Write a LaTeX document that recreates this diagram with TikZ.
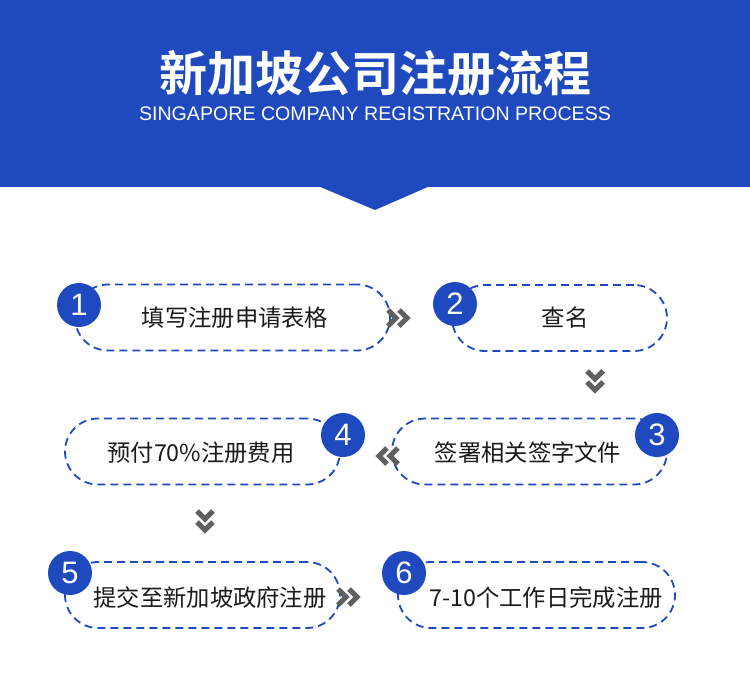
\documentclass[tikz,border=0pt]{standalone}
\usepackage{fontspec}
\newfontfamily\cjk{Noto Sans CJK SC}[BoldFont={Noto Sans CJK SC Bold}]
\newfontfamily\latinsans{Liberation Sans}
\usetikzlibrary{calc}
\definecolor{hblue}{HTML}{1F4ABF}
\definecolor{chevgray}{HTML}{606060}
\definecolor{txt}{HTML}{1A1A1A}
\begin{document}
\begin{tikzpicture}[x=1pt,y=-1pt,
 pill/.style={draw=hblue, line width=1.8pt, dash pattern=on 8pt off 5pt, rounded corners=33pt, minimum height=66pt, inner sep=0pt},
 ptext/.style={text=txt, font=\cjk\fontsize{23.3}{23.3}\selectfont, inner sep=0pt},
 num/.style={circle, fill=hblue, minimum size=44pt, inner sep=0pt, text=white, font=\latinsans\fontsize{31}{31}\selectfont},
 chevline/.style={draw=chevgray, line width=5pt, line cap=butt, line join=miter},
 chevs/.pic={\draw[chevline] (-12,-8)--(-4,0)--(-12,8); \draw[chevline] (-1,-8)--(7,0)--(-1,8);}
]
\useasboundingbox (0,0) rectangle (750,675);
\fill[white] (0,0) rectangle (750,675);
% header
\fill[hblue] (0,0) rectangle (750,187);
\fill[hblue] (318,186) -- (375,210) -- (430,186) -- cycle;
\node[text=white, font=\cjk\bfseries\fontsize{48}{48}\selectfont, inner sep=0pt] (title) at (375,73) {新加坡公司注册流程};
\node[text=white, font=\latinsans\fontsize{19.6}{19.6}\selectfont, inner sep=0pt] (sub) at (375,114) {SINGAPORE COMPANY REGISTRATION PROCESS};
% pills
\node[pill, minimum width=315pt] (p1) at (232.5,317.5) {};
\node[pill, minimum width=215pt] (p2) at (559.5,318) {};
\node[pill, minimum width=275pt] (p3) at (529.5,451.5) {};
\node[pill, minimum width=275pt] (p4) at (202.5,451.5) {};
\node[pill, minimum width=275pt] (p5) at (202.5,595) {};
\node[pill, minimum width=277pt] (p6) at (536.5,595) {};
% texts
\node[ptext] (t1) at (235,318) {填写注册申请表格};
\node[ptext] (t2) at (565,318) {查名};
\node[ptext] (t3) at (528,453) {签署相关签字文件};
\node[ptext] (t4) at (201,453) {预付70\%注册费用};
\node[ptext] (t5) at (210,598) {提交至新加坡政府注册};
\node[ptext] (t6) at (546,598) {7-10个工作日完成注册};
% numbers
\node[num] (n1) at (79,305) {1};
\node[num] (n2) at (455,304) {2};
\node[num] (n3) at (657,435) {3};
\node[num] (n4) at (343,435) {4};
\node[num] (n5) at (70,573) {5};
\node[num] (n6) at (404,573) {6};
% chevrons
\coordinate (c12) at (400,318);
\coordinate (c23) at (595,383);
\coordinate (c34) at (386,456);
\coordinate (c45) at (205,523);
\coordinate (c56) at (350,597);
\pic at (c12) {chevs};
\pic[rotate=-90] at (c23) {chevs};
\pic[rotate=180] at (c34) {chevs};
\pic[rotate=-90] at (c45) {chevs};
\pic at (c56) {chevs};
\end{tikzpicture}
\end{document}
